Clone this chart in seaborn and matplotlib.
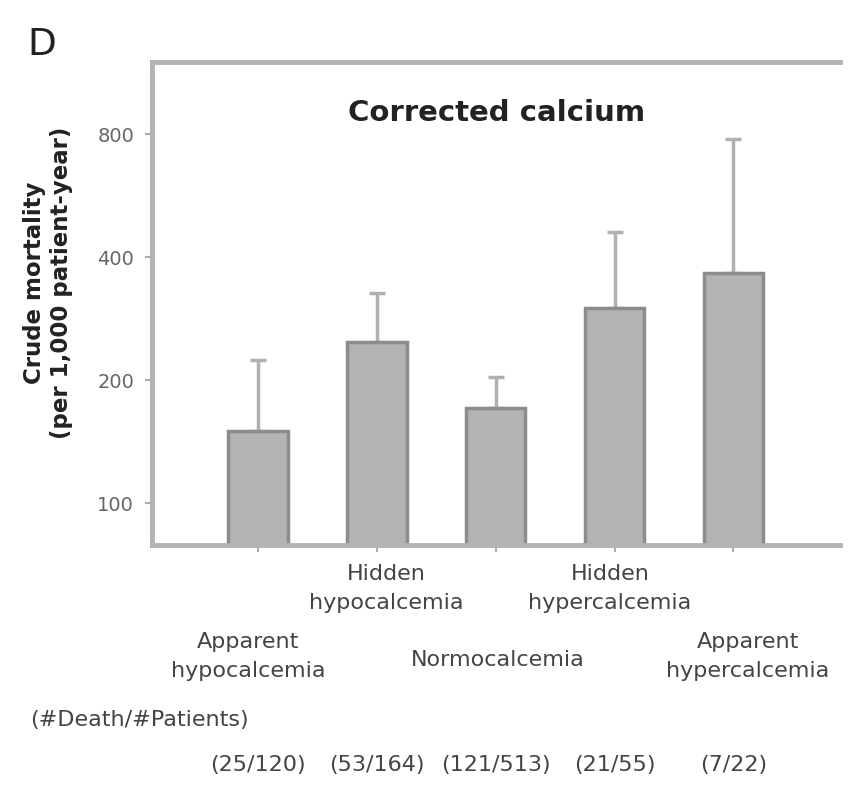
import numpy as np
import pandas as pd
import seaborn as sns
from matplotlib import pyplot as plt
from matplotlib import transforms
from matplotlib.ticker import FixedLocator, NullLocator

# values (crude mortality, per 1,000 patient-year)
groups = ["Apparent\nhypocalcemia", "Hidden\nhypocalcemia", "Normocalcemia",
          "Hidden\nhypercalcemia", "Apparent\nhypercalcemia"]
mortality = [150, 248, 171, 301, 366]
upper_ci = [224, 327, 204, 460, 778]
counts = ["(25/120)", "(53/164)", "(121/513)", "(21/55)", "(7/22)"]
y_ticks = [100, 200, 400, 800]

sns.set_style("white")
plt.rcParams['font.family'] = ['DejaVu Sans']

df = pd.DataFrame({"group": groups, "mortality": mortality, "upper": upper_ci})

fig = plt.figure(figsize=(8.55, 7.96), dpi=100)
ax = fig.add_axes([0.178, 0.315, 0.805, 0.607])

sns.barplot(data=df, x="group", y="mortality", color="#b3b3b3", saturation=1,
            edgecolor="#8c8c8c", linewidth=2.5, width=0.5, ax=ax, zorder=2)

err_up = df["upper"] - df["mortality"]
ax.errorbar(np.arange(len(df)), df["mortality"], yerr=[np.zeros(len(df)), err_up],
            fmt="none", ecolor="#b0b0b0", elinewidth=2.5, capsize=6, capthick=2.5, zorder=1)

ax.set_yscale("log")
ax.set_ylim(79, 1200)
ax.set_xlim(-0.89, 4.9)
ax.yaxis.set_major_locator(FixedLocator(y_ticks))
ax.yaxis.set_minor_locator(NullLocator())
ax.set_yticklabels([str(t) for t in y_ticks])
ax.set_xticks(range(len(df)))
ax.set_xticklabels([])
ax.set_xlabel("")
ax.set_ylabel("")
ax.tick_params(axis="both", which="major", direction="out", length=5, width=1.2, pad=8,
               color="#999999", labelcolor="#666666", labelsize=14, left=True, bottom=True)

for side in ["top", "left", "bottom"]:
    ax.spines[side].set_color("#b3b3b3")
    ax.spines[side].set_linewidth(3.5)
ax.spines["right"].set_visible(False)

ax.text(0.5, 0.894, "Corrected calcium", transform=ax.transAxes, ha="center", va="center",
        fontsize=21, fontweight="bold", color="#222222")

fig.text(0.032, 0.943, "D", fontsize=27, ha="left", va="center", color="#222222")
fig.text(0.056, 0.645, "Crude mortality\n(per 1,000 patient-year)", rotation=90,
         ha="center", va="center", fontsize=16.5, fontweight="bold", color="#222222",
         linespacing=1.25)

# staggered category labels under the bars
trans = transforms.blended_transform_factory(ax.transData, fig.transFigure)
row_y = [0.175, 0.261, 0.171, 0.261, 0.175]
nudge = [-0.08, 0.08, 0.02, -0.04, 0.12]
for i, name in enumerate(groups):
    ax.text(i + nudge[i], row_y[i], name, transform=trans, ha="center", va="center",
            fontsize=16, color="#444444", linespacing=1.55)

fig.text(0.163, 0.095, "(#Death/#Patients)", ha="center", va="center", fontsize=16, color="#444444")
for i, c in enumerate(counts):
    ax.text(i, 0.039, c, transform=trans, ha="center", va="center", fontsize=16, color="#444444")

fig.savefig("out.png", dpi=100)
